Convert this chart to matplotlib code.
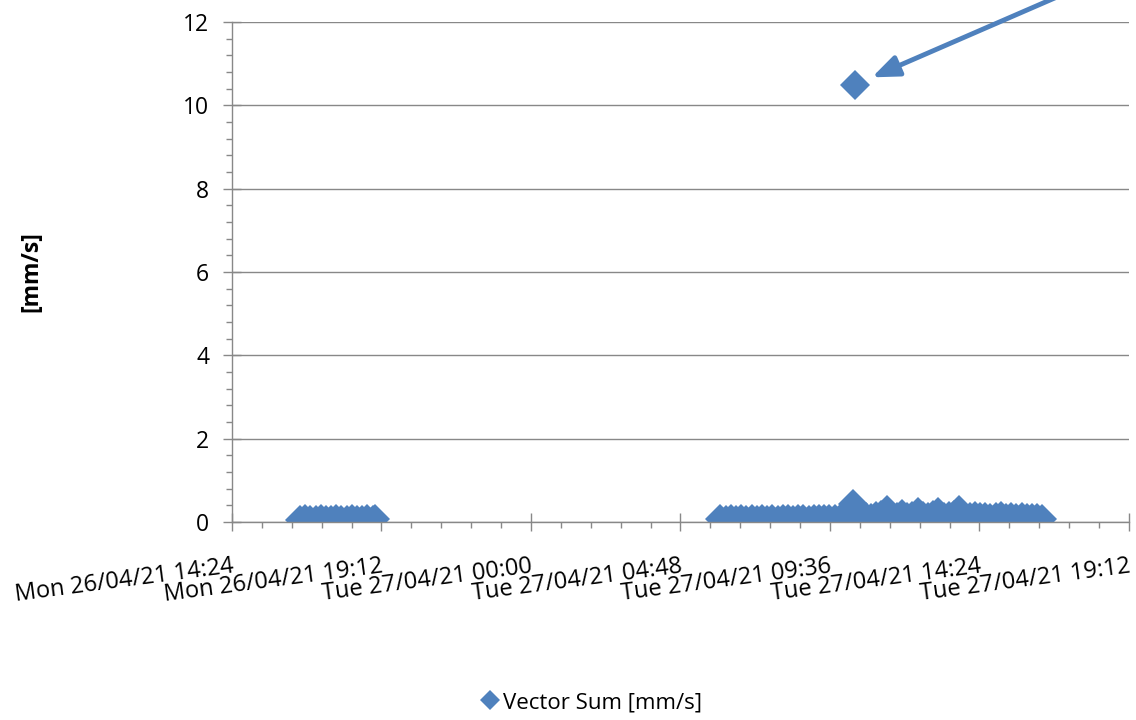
import matplotlib
matplotlib.use("Agg")
import matplotlib.pyplot as plt
import matplotlib.dates as mdates
from matplotlib.ticker import MultipleLocator
import pandas as pd

plt.rcParams["font.family"] = ["Open Sans", "DejaVu Sans"]

# logger readings, Mon 26/04/21 evening
mon_times = ["16:35", "16:45", "16:55", "17:05", "17:15", "17:25", "17:35",
             "17:45", "17:55", "18:05", "18:15", "18:25", "18:35", "18:45",
             "18:55", "19:00"]
mon_values = [0.06, 0.07, 0.06, 0.06, 0.07, 0.06, 0.06,
              0.07, 0.06, 0.06, 0.07, 0.06, 0.06, 0.07,
              0.06, 0.07]

# logger readings, Tue 27/04/21
tue_times = ["06:05", "06:15", "06:25", "06:35", "06:45", "06:55", "07:05",
             "07:15", "07:25", "07:35", "07:45", "07:55", "08:05", "08:15",
             "08:25", "08:35", "08:45", "08:55", "09:05", "09:15", "09:25",
             "09:35", "09:45", "09:55", "10:05", "10:15", "10:20", "10:25",
             "10:35", "10:45", "10:55", "11:05", "11:15", "11:25", "11:35",
             "11:45", "11:55", "12:05", "12:15", "12:25", "12:35", "12:45",
             "12:55", "13:05", "13:15", "13:25", "13:35", "13:45", "13:55",
             "14:05", "14:15", "14:25", "14:35", "14:45", "14:55", "15:05",
             "15:15", "15:25", "15:35", "15:45", "15:55", "16:05", "16:15",
             "16:25"]
tue_values = [0.07, 0.06, 0.07, 0.06, 0.07, 0.06, 0.07,
              0.06, 0.07, 0.06, 0.07, 0.06, 0.07, 0.07,
              0.06, 0.08, 0.07, 0.06, 0.07, 0.08, 0.07,
              0.08, 0.07, 0.08, 0.09, 0.08, 0.44, 10.5,
              0.10, 0.12, 0.10, 0.14, 0.18, 0.28, 0.14,
              0.13, 0.20, 0.12, 0.14, 0.25, 0.15, 0.12,
              0.16, 0.24, 0.13, 0.14, 0.18, 0.28, 0.13,
              0.12, 0.15, 0.11, 0.13, 0.10, 0.11, 0.15,
              0.10, 0.11, 0.09, 0.12, 0.10, 0.09, 0.10,
              0.08]

x_start = "2021-04-26 14:24"
x_end = "2021-04-27 19:12"

times = pd.to_datetime(["2021-04-26 " + t for t in mon_times] +
                       ["2021-04-27 " + t for t in tue_times])
values = mon_values + tue_values

blue = "#4F81BD"
grey = "#888888"

fig = plt.figure(figsize=(11.36, 7.2), dpi=100)
ax = fig.add_axes([0.2042, 0.275, 0.7896, 0.6944])

ax.plot(times, values, linestyle="none", marker="D", markersize=15,
        color=blue, markeredgewidth=0, label="Vector Sum [mm/s]")

ax.set_xlim(pd.Timestamp(x_start), pd.Timestamp(x_end))
ax.set_ylim(0, 12)

ax.yaxis.set_major_locator(MultipleLocator(2))
ax.yaxis.set_minor_locator(MultipleLocator(0.4))
ax.xaxis.set_major_locator(MultipleLocator(0.2))
ax.xaxis.set_minor_locator(MultipleLocator(0.04))
ax.xaxis.set_major_formatter(mdates.DateFormatter("%a %d/%m/%y %H:%M"))

ax.grid(axis="y", color=grey, linewidth=1.0)
ax.set_axisbelow(True)
for side in ["top", "right"]:
    ax.spines[side].set_visible(False)
for side in ["left", "bottom"]:
    ax.spines[side].set_color(grey)
    ax.spines[side].set_linewidth(1.0)

ax.tick_params(which="major", direction="inout", length=13, width=1.0,
               color=grey, labelsize=16.5, labelcolor="black")
ax.tick_params(which="minor", direction="out", length=4, width=1.0, color=grey)
ax.tick_params(axis="y", which="major", pad=10)
ax.tick_params(axis="x", which="major", pad=17, labelsize=17)

for lbl in ax.get_xticklabels():
    lbl.set_rotation(7.5)
    lbl.set_ha("right")
    lbl.set_va("top")
    lbl.set_rotation_mode("anchor")

ax.set_ylabel("[mm/s]", fontsize=16.5, fontweight="bold")
ax.yaxis.set_label_coords(-0.21, 0.5)

# arrow pointing at the peak reading
i_peak = values.index(max(values))
ax.annotate("", xy=(times[i_peak], values[i_peak]), xytext=(152, 66),
            textcoords="offset points", annotation_clip=False,
            arrowprops=dict(arrowstyle="-|>,head_length=0.8,head_width=0.32",
                            color=blue, lw=3.5, mutation_scale=20,
                            shrinkA=0, shrinkB=13))

fig.legend(loc="center", bbox_to_anchor=(0.52, 0.024), frameon=False,
           fontsize=16, markerscale=0.65, handletextpad=0.1,
           handlelength=1.0)

fig.savefig("out.png", dpi=100)
